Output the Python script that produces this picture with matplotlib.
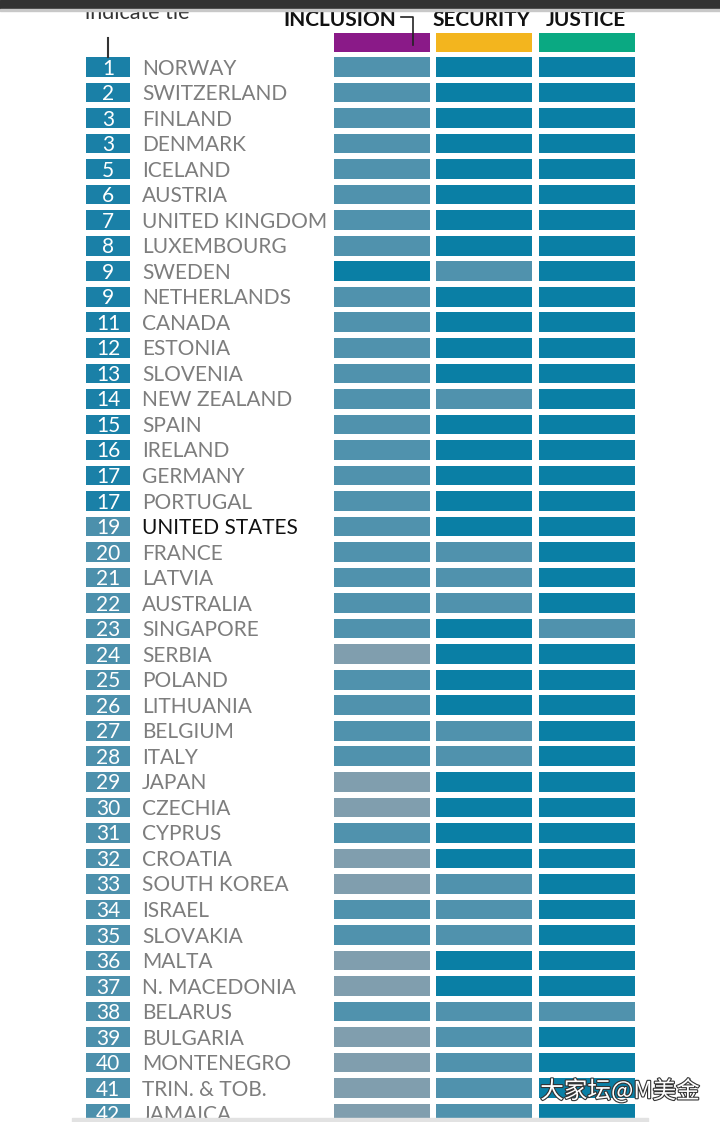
import matplotlib.pyplot as plt
import matplotlib.patheffects as pe

# ranks and countries, top to bottom
ranks = [1, 2, 3, 3, 5, 6, 7, 8, 9, 9, 11, 12, 13, 14, 15, 16, 17, 17, 19, 20,
         21, 22, 23, 24, 25, 26, 27, 28, 29, 30, 31, 32, 33, 34, 35, 36, 37, 38,
         39, 40, 41, 42]
countries = ["NORWAY", "SWITZERLAND", "FINLAND", "DENMARK", "ICELAND", "AUSTRIA",
             "UNITED KINGDOM", "LUXEMBOURG", "SWEDEN", "NETHERLANDS", "CANADA",
             "ESTONIA", "SLOVENIA", "NEW ZEALAND", "SPAIN", "IRELAND", "GERMANY",
             "PORTUGAL", "UNITED STATES", "FRANCE", "LATVIA", "AUSTRALIA",
             "SINGAPORE", "SERBIA", "POLAND", "LITHUANIA", "BELGIUM", "ITALY",
             "JAPAN", "CZECHIA", "CYPRUS", "CROATIA", "SOUTH KOREA", "ISRAEL",
             "SLOVAKIA", "MALTA", "N. MACEDONIA", "BELARUS", "BULGARIA",
             "MONTENEGRO", "TRIN. & TOB.", "JAMAICA"]

# tier per dimension: 1 = top, 2 = middle, 3 = lower
inclusion = [2, 2, 2, 2, 2, 2, 2, 2, 1, 2, 2, 2, 2, 2, 2, 2, 2, 2, 2, 2,
             2, 2, 2, 3, 2, 2, 2, 2, 3, 3, 2, 3, 3, 2, 2, 3, 3, 2, 3, 3, 3, 3]
security = [1, 1, 1, 1, 1, 1, 1, 1, 2, 1, 1, 1, 1, 2, 1, 1, 1, 1, 1, 2,
            2, 2, 1, 1, 1, 1, 2, 2, 1, 1, 1, 1, 2, 2, 2, 1, 1, 2, 2, 2, 2, 2]
justice = [1, 1, 1, 1, 1, 1, 1, 1, 1, 1, 1, 1, 1, 1, 1, 1, 1, 1, 1, 1,
           1, 1, 2, 1, 1, 1, 1, 1, 1, 1, 1, 1, 1, 1, 1, 1, 1, 2, 1, 1, 1, 1]

dimensions = ["INCLUSION", "SECURITY", "JUSTICE"]
header_colors = ["#8a1a88", "#f3b51e", "#0aa982"]
tier_colors = {1: "#0a7fa5", 2: "#5092ad", 3: "#809eae"}

W, H = 720, 1122
fig = plt.figure(figsize=(W / 100, H / 100), dpi=100)
ax = fig.add_axes([0, 0, 1, 1])
pitch = 25.53
top_row_px = 67
ax.set_xlim(0, W)
ax.set_ylim((H - top_row_px) / pitch, -top_row_px / pitch)
ax.axis("off")

rows = list(range(len(countries)))
bar_h = 0.77
col_left = [334, 436, 539]
col_w = 96

for j, vals in enumerate([inclusion, security, justice]):
    ax.barh(rows, [col_w] * len(rows), left=col_left[j], height=bar_h,
            color=[tier_colors[v] for v in vals], linewidth=0)
    # header swatch
    ax.barh([-0.96], [col_w], left=col_left[j], height=bar_h,
            color=header_colors[j], linewidth=0)

# rank boxes
box_colors = ["#1a80a7" if i < 18 else "#4c90ac" for i in rows]
ax.barh(rows, [44] * len(rows), left=86, height=bar_h, color=box_colors,
        linewidth=0)

for i in rows:
    ax.text(108, i + 0.06, str(ranks[i]), color="white", fontsize=15,
            family="Lato", ha="center", va="center")
    name_color = "#111111" if countries[i] == "UNITED STATES" else "#7d7d7d"
    ax.text(142, i + 0.06, countries[i], color=name_color, fontsize=15,
            family="Lato", ha="left", va="center")

# column headers
header_x = [340, 482, 586]
for j, name in enumerate(dimensions):
    ax.text(header_x[j], -1.83, name, fontsize=15, fontweight="bold",
            family="Lato", color="#111111", ha="center", va="center")

# bracket from INCLUSION to its swatch
ax.plot([401, 413, 413], [-1.95, -1.95, -0.85], color="#222222", lw=1.2)

# tie note and its pointer
ax.text(85, -1.88, "indicate tie", fontsize=15.5, family="Lato",
        color="#333333", ha="left", va="baseline")
ax.plot([108, 108], [-1.14, -bar_h / 2], color="#333333", lw=1.5)

# scanner frame: dark strip at the top, faint strip at the bottom
fig.patches.append(plt.Rectangle((0, 1 - 9 / H), 1, 9 / H, transform=fig.transFigure,
                                 color="#333333", zorder=10))
fig.patches.append(plt.Rectangle((0, 1 - 11 / H), 1, 2 / H, transform=fig.transFigure,
                                 color="#c8c8c8", zorder=10))
fig.patches.append(plt.Rectangle((72 / W, 0), 576 / W, 4 / H, transform=fig.transFigure,
                                 color="#e2e2e2", zorder=10))

# watermark
ax.text(620, 40.1, "大家坛@M美金", fontsize=17, color="white",
        family=["Noto Sans CJK SC", "DejaVu Sans"], ha="center", va="center",
        path_effects=[pe.withStroke(linewidth=1.6, foreground="#333333")], zorder=5)

fig.savefig("out.png", dpi=100)
